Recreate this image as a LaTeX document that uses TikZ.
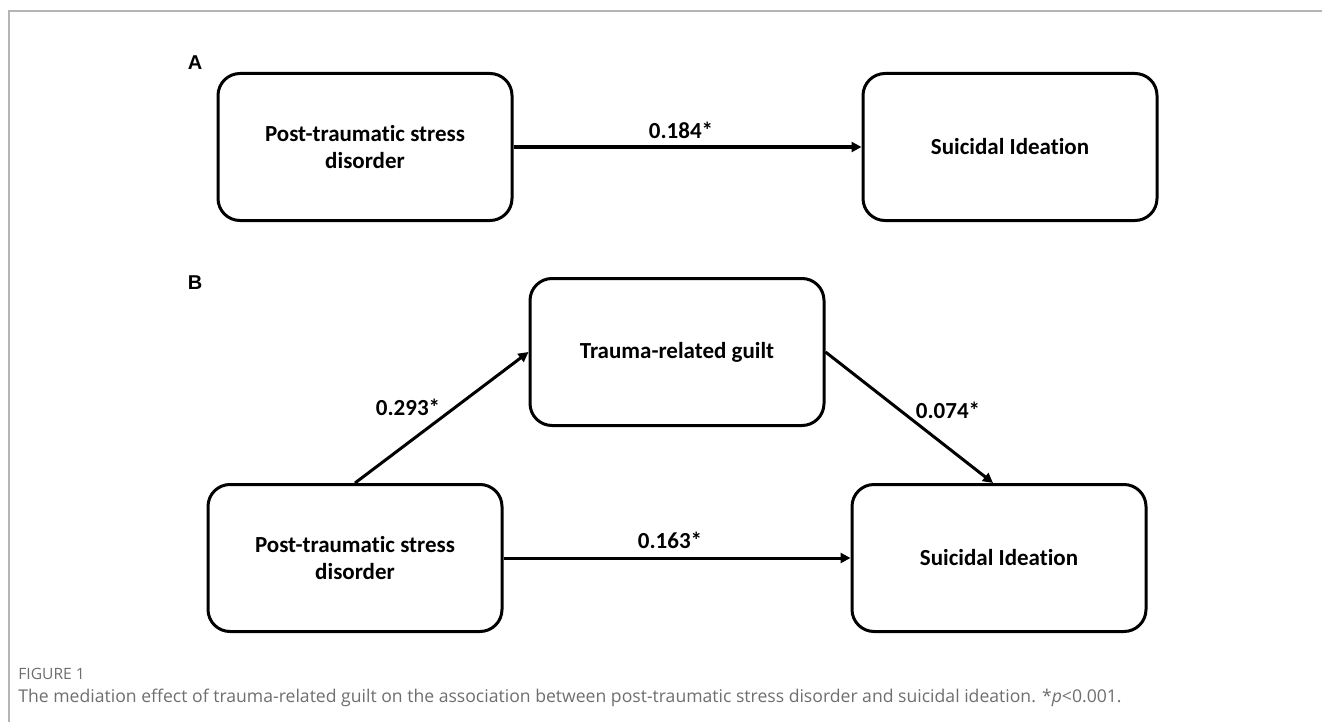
\documentclass[tikz,border=0pt]{standalone}
\usepackage{fontspec}
\setmainfont{Carlito}[Ligatures=CommonOff]
\newfontfamily\panelfont{Liberation Sans}
\newfontfamily\capfont{Open Sans}
\usetikzlibrary{arrows.meta}

\definecolor{capgray}{HTML}{6E6E6E}
\definecolor{framegray}{HTML}{B4B4B4}

\begin{document}
\begin{tikzpicture}[x=0.5pt,y=-0.5pt,
    box/.style={draw,line width=1.5pt,rounded corners=11pt,minimum width=147pt,minimum height=73.5pt,
        align=center,inner sep=0pt,font=\bfseries\fontsize{11.5}{13.5}\selectfont},
    link/.style={line width=1.5pt,-{Triangle[length=5pt,width=5pt]}},
    coef/.style={font=\bfseries\fontsize{11.5}{13}\selectfont,inner sep=0pt},
    panel/.style={font=\panelfont\bfseries\fontsize{10}{12}\selectfont,inner sep=0pt}]
    \useasboundingbox (0,0) rectangle (1322,722);
    \draw[framegray,line width=0.6pt] (9,722) -- (9,11) -- (1322,11);

    % panel A
    \node[panel] (lblA) at (195,63) {A};
    \node[box] (ptsdA) at (365,147) {Post-traumatic stress\\disorder};
    \node[box] (ideaA) at (1010,147) {Suicidal Ideation};
    \draw[link] (ptsdA) -- (ideaA);
    \node[coef] (cA) at (681,130) {0.184*};

    % panel B
    \node[panel] (lblB) at (195,283) {B};
    \node[box] (guilt) at (677,352) {Trauma-related guilt};
    \node[box] (ptsdB) at (355,558) {Post-traumatic stress\\disorder};
    \node[box] (ideaB) at (999,558) {Suicidal Ideation};
    \draw[link] (ptsdB.north) -- (guilt.west);
    \draw[link] (guilt.east) -- ([xshift=-3pt]ideaB.north);
    \draw[link] (ptsdB) -- (ideaB);
    \node[coef] (cB1) at (408,407) {0.293*};
    \node[coef] (cB2) at (948,410) {0.074*};
    \node[coef] (cB3) at (670,540) {0.163*};

    % caption
    \node[anchor=west,inner sep=0pt,text=capgray,font=\capfont\fontsize{7.8}{9}\selectfont] (fig) at (18,674) {FIGURE 1};
    \node[anchor=west,inner sep=0pt,text=capgray,font=\capfont\fontsize{8.8}{10}\selectfont] (cap) at (18,698)
        {The mediation effect of trauma-related guilt on the association between post-traumatic stress disorder and suicidal ideation. *\textit{p}<0.001.};
\end{tikzpicture}
\end{document}
